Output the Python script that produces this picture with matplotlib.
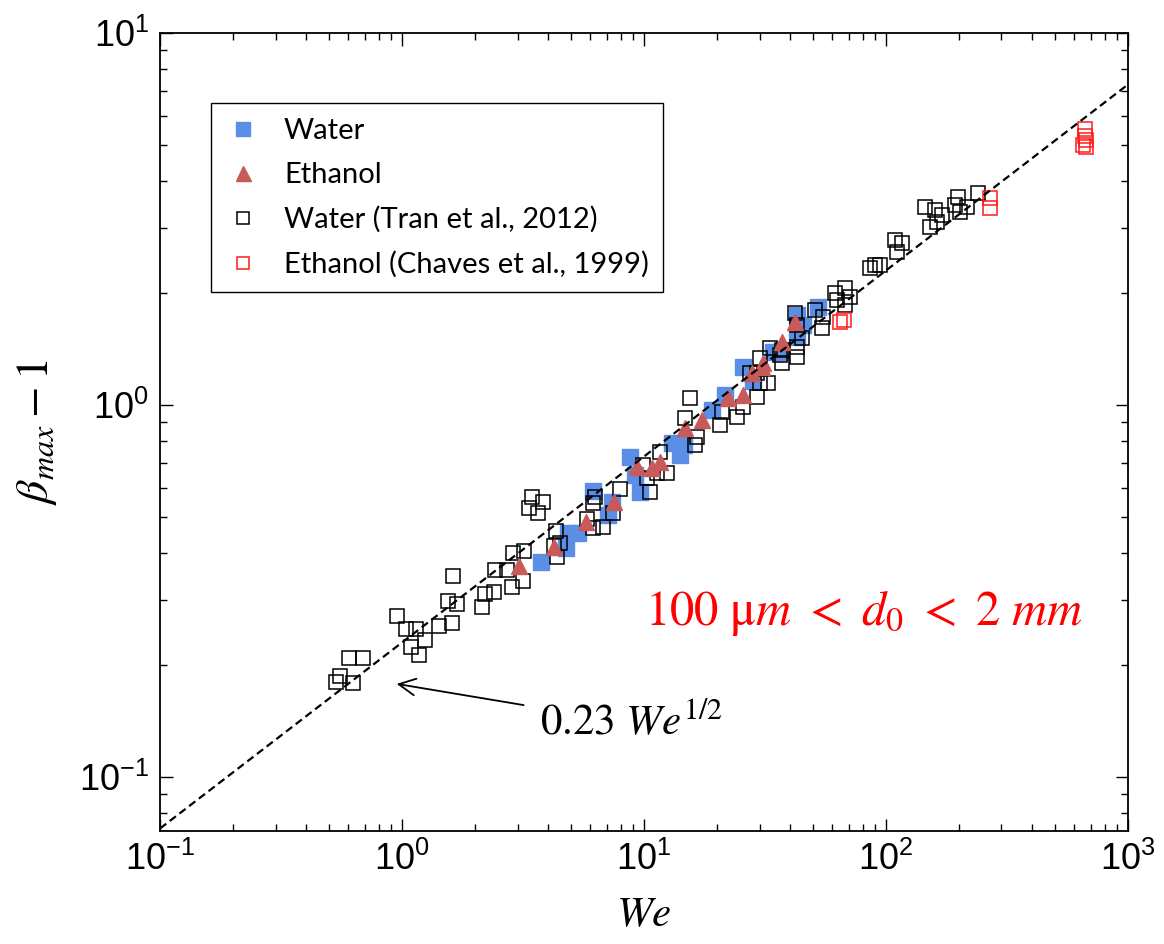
import numpy as np
import matplotlib
matplotlib.use('Agg')
import matplotlib.pyplot as plt

plt.rcParams['font.family'] = ['Liberation Sans', 'DejaVu Sans']
plt.rcParams['mathtext.fontset'] = 'custom'
plt.rcParams['mathtext.rm'] = 'Liberation Sans'
plt.rcParams['mathtext.it'] = 'Liberation Sans:italic'
plt.rcParams['axes.unicode_minus'] = False

# present measurements
water_we = [3.75, 4.76, 4.85, 5.34, 6.15, 7.38, 7.10, 8.75, 9.18, 9.62, 13.05, 14.1,
            14.6, 19.1, 21.6, 25.6, 28.2, 34.1, 36.5, 42.9, 45.4, 42.9, 52.4]
water_beta = [0.378, 0.413, 0.453, 0.453, 0.587, 0.549, 0.506, 0.725, 0.648, 0.584, 0.790, 0.734,
              0.781, 0.970, 1.064, 1.265, 1.160, 1.388, 1.388, 1.523, 1.641, 1.746, 1.834]

ethanol_we = [3.04, 4.25, 5.76, 7.52, 9.36, 10.8, 11.65, 14.76, 17.4, 22.2, 25.6, 27.9,
              31.0, 37.2, 42.1, 30.7]
ethanol_beta = [0.369, 0.415, 0.485, 0.549, 0.681, 0.677, 0.703, 0.867, 0.912, 1.044, 1.064, 1.219,
                1.297, 1.477, 1.672, 1.265]

# Tran et al. 2012, water
tran_we = [0.534, 0.554, 0.627, 0.604, 0.690, 0.953, 1.039, 1.143, 1.245, 1.089, 1.175, 1.422,
           1.609, 1.624, 1.549, 1.687, 2.141, 2.203, 2.40, 2.42, 2.715, 2.848, 3.16, 2.876,
           3.19, 3.445, 3.825, 3.35, 3.65, 4.33, 4.25, 4.50, 4.37, 5.81, 6.15, 6.27,
           6.15, 6.77, 7.44, 7.96, 9.91, 10.29, 10.59, 11.32, 12.45, 11.65, 15.5, 14.76,
           16.56, 16.25, 21.0, 20.6, 24.2, 25.6, 29.3, 30.1, 32.5, 27.4, 29.3, 30.1,
           33.2, 36.5, 37.2, 42.9, 37.2, 42.9, 45.0, 42.9, 42.1, 50.9, 55.0, 54.4,
           61.5, 67.7, 71.0, 67.7, 62.8, 85.9, 90.1, 94.4, 108.9, 116.4, 111.0, 144.9,
           159.4, 170.3, 152.0, 162.6, 198.6, 192.8, 202.3, 216.3, 240.0]
tran_beta = [0.180, 0.187, 0.179, 0.209, 0.209, 0.271, 0.250, 0.250, 0.234, 0.224, 0.213, 0.255,
             0.259, 0.347, 0.297, 0.292, 0.286, 0.310, 0.314, 0.360, 0.360, 0.324, 0.336, 0.400,
             0.405, 0.566, 0.549, 0.529, 0.512, 0.458, 0.418, 0.426, 0.390, 0.494, 0.467, 0.566,
             0.545, 0.470, 0.512, 0.595, 0.690, 0.637, 0.584, 0.656, 0.656, 0.748, 1.044, 0.923,
             0.820, 0.781, 0.958, 0.884, 0.928, 0.988, 1.051, 1.146, 1.146, 1.219, 1.219, 1.338,
             1.423, 1.362, 1.297, 1.346, 1.405, 1.432, 1.514, 1.641, 1.767, 1.800, 1.724, 1.611,
             2.000, 2.063, 1.950, 1.857, 1.915, 2.335, 2.379, 2.379, 2.777, 2.727, 2.578, 3.41,
             3.34, 3.24, 3.01, 3.10, 3.62, 3.45, 3.30, 3.41, 3.71]

# Chaves et al. 1999, ethanol
chaves_we = [64.5, 66.9, 269, 269, 664, 664, 668, 652, 670]
chaves_beta = [1.672, 1.692, 3.60, 3.385, 5.52, 5.29, 5.17, 5.00, 4.94]

fit_coef = 0.23
fit_we = np.logspace(-1, 3, 200)

fig = plt.figure(figsize=(11.64, 9.44), dpi=100)
ax = fig.add_axes([0.1375, 0.1197, 0.8316, 0.8453])

ax.plot(fit_we, fit_coef * fit_we ** 0.5, color='black', ls=(0, (3.5, 2)), lw=1.6, zorder=5)

ax.plot(tran_we, tran_beta, ls='none', marker='s', ms=9.5, mfc='none', mec='black', mew=1.1,
        label='Water (Tran et al., 2012)', zorder=3)
ax.plot(chaves_we, chaves_beta, ls='none', marker='s', ms=9.5, mfc='none', mec='#ff1a1a', mew=1.1,
        label='Ethanol (Chaves et al., 1999)', zorder=3)
ax.plot(water_we, water_beta, ls='none', marker='s', ms=11, mfc='#5b8ee6', mec='#5b8ee6',
        label='Water', zorder=2)
ax.plot(ethanol_we, ethanol_beta, ls='none', marker='^', ms=12, mfc='#c85a5a', mec='#c85a5a',
        label='Ethanol', zorder=4)

ax.set_xscale('log')
ax.set_yscale('log')
ax.set_xlim(0.1, 1000)
ax.set_ylim(0.0716, 10)

ax.tick_params(which='both', direction='in', top=True, right=True, width=1)
ax.tick_params(which='major', length=9, labelsize=26, pad=8)
ax.tick_params(which='minor', length=5)
for s in ax.spines.values():
    s.set_linewidth(1.3)

ax.set_xlabel(r'$We$', fontsize=31, math_fontfamily='stix', labelpad=12)
ax.set_ylabel(r'$\beta_{max} - 1$', fontsize=33, math_fontfamily='stix', labelpad=14)

handles, labels = ax.get_legend_handles_labels()
order = [2, 3, 0, 1]
leg = ax.legend([handles[i] for i in order], [labels[i] for i in order],
                loc='upper left', bbox_to_anchor=(0.0527, 0.912), borderaxespad=0,
                fancybox=False, edgecolor='black', framealpha=1, markerscale=0.9,
                prop={'family': 'Lato', 'size': 21}, handlelength=1.2, handletextpad=0.8,
                labelspacing=0.62, borderpad=0.5)
leg.get_frame().set_linewidth(1.0)

ax.text(0.501, 0.258, r'$100\ \mathrm{μ}m\ <\ d_0\ <\ 2\ mm$', transform=ax.transAxes,
        color='red', fontsize=35, math_fontfamily='stix', va='baseline')

ax.annotate(r'$0.23\ We^{1/2}$', xy=(0.95, 0.178), xytext=(3.72, 0.130),
            textcoords='data', fontsize=31, math_fontfamily='stix', va='baseline',
            arrowprops=dict(arrowstyle='->', color='black', lw=1.3,
                            mutation_scale=30, shrinkA=10, shrinkB=0))

fig.savefig('out.png', dpi=100)
